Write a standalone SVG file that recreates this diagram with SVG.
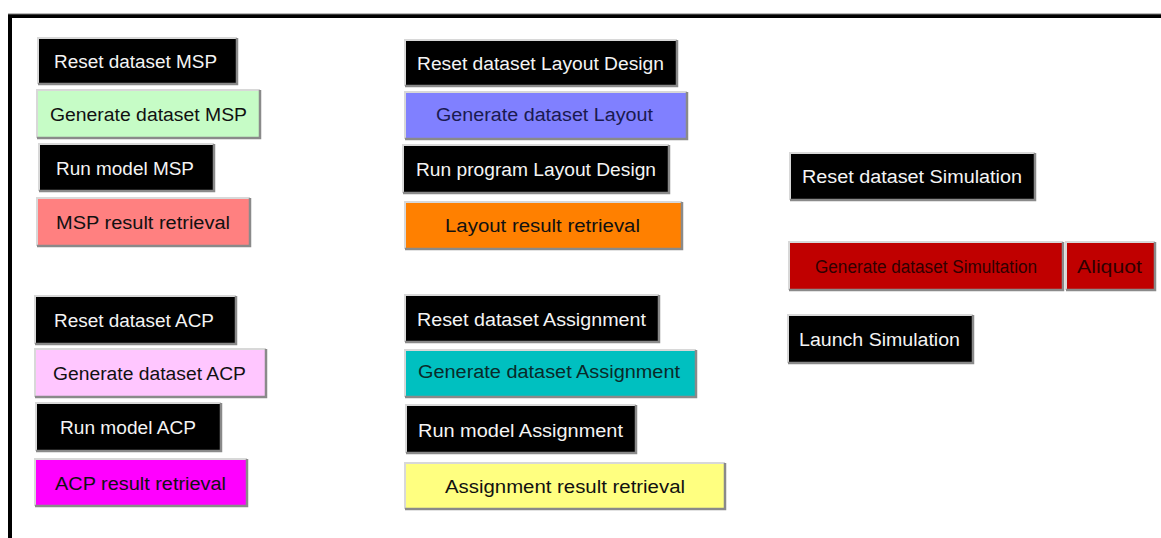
<svg xmlns="http://www.w3.org/2000/svg" width="1161" height="538" viewBox="0 0 1161 538">
<style>
.t{font-family:"Liberation Sans",Arial,sans-serif;font-size:18px}
.w{fill:#f4f4f4}
.d{fill:#111}
.hl{fill:none;stroke:#d8d8d8;stroke-width:2}
.sh{fill:none;stroke:#8a8a8a;stroke-width:2.5}
</style>
<rect width="1161" height="538" fill="#fff"/>
<path d="M10,538 V16 H1161" fill="none" stroke="#000" stroke-width="4"/>
<path d="M8,14 H1161" stroke="#777" stroke-width="1" fill="none"/>

<g id="reset-msp"><rect x="38" y="38" width="199" height="46" fill="#000"/><path class="hl" d="M38,84 V38 H237"/><path class="sh" d="M237,38 V84 H38"/><text class="t w" x="54" y="68" textLength="163" lengthAdjust="spacingAndGlyphs">Reset dataset MSP</text></g>
<g id="gen-msp"><rect x="37" y="90" width="223" height="48" fill="#c6fcc6"/><path class="hl" d="M37,138 V90 H260"/><path class="sh" d="M260,90 V138 H37"/><text class="t d" x="50" y="121" textLength="197" lengthAdjust="spacingAndGlyphs">Generate dataset MSP</text></g>
<g id="run-msp"><rect x="39" y="144" width="175" height="47" fill="#000"/><path class="hl" d="M39,191 V144 H214"/><path class="sh" d="M214,144 V191 H39"/><text class="t w" x="56" y="175" textLength="138" lengthAdjust="spacingAndGlyphs">Run model MSP</text></g>
<g id="res-msp"><rect x="37" y="198" width="213" height="48" fill="#ff8080"/><path class="hl" d="M37,246 V198 H250"/><path class="sh" d="M250,198 V246 H37"/><text class="t d" x="56" y="229" textLength="174" lengthAdjust="spacingAndGlyphs">MSP result retrieval</text></g>

<g id="reset-acp"><rect x="35" y="296" width="201" height="48" fill="#000"/><path class="hl" d="M35,344 V296 H236"/><path class="sh" d="M236,296 V344 H35"/><text class="t w" x="54" y="327" textLength="160" lengthAdjust="spacingAndGlyphs">Reset dataset ACP</text></g>
<g id="gen-acp"><rect x="35" y="349" width="231" height="48" fill="#ffc6ff"/><path class="hl" d="M35,397 V349 H266"/><path class="sh" d="M266,349 V397 H35"/><text class="t d" x="53" y="380" textLength="193" lengthAdjust="spacingAndGlyphs">Generate dataset ACP</text></g>
<g id="run-acp"><rect x="36" y="403" width="185" height="48" fill="#000"/><path class="hl" d="M36,451 V403 H221"/><path class="sh" d="M221,403 V451 H36"/><text class="t w" x="60" y="434" textLength="136" lengthAdjust="spacingAndGlyphs">Run model ACP</text></g>
<g id="res-acp"><rect x="35" y="459" width="212" height="47" fill="#ff00ff"/><path class="hl" d="M35,506 V459 H247"/><path class="sh" d="M247,459 V506 H35"/><text class="t d" x="55" y="490" textLength="171" lengthAdjust="spacingAndGlyphs">ACP result retrieval</text></g>

<g id="reset-layout"><rect x="405" y="40" width="272" height="46" fill="#000"/><path class="hl" d="M405,86 V40 H677"/><path class="sh" d="M677,40 V86 H405"/><text class="t w" x="417" y="70" textLength="247" lengthAdjust="spacingAndGlyphs">Reset dataset Layout Design</text></g>
<g id="gen-layout"><rect x="405" y="92" width="282" height="47" fill="#8080ff"/><path class="hl" d="M405,139 V92 H687"/><path class="sh" d="M687,92 V139 H405"/><text class="t" fill="#1a1a50" x="436" y="121" textLength="217" lengthAdjust="spacingAndGlyphs">Generate dataset Layout</text></g>
<g id="run-layout"><rect x="403" y="145" width="266" height="48" fill="#000"/><path class="hl" d="M403,193 V145 H669"/><path class="sh" d="M669,145 V193 H403"/><text class="t w" x="416" y="176" textLength="240" lengthAdjust="spacingAndGlyphs">Run program Layout Design</text></g>
<g id="res-layout"><rect x="405" y="202" width="277" height="47" fill="#ff8000"/><path class="hl" d="M405,249 V202 H682"/><path class="sh" d="M682,202 V249 H405"/><text class="t d" x="445" y="232" textLength="195" lengthAdjust="spacingAndGlyphs">Layout result retrieval</text></g>

<g id="reset-assign"><rect x="405" y="295" width="254" height="47" fill="#000"/><path class="hl" d="M405,342 V295 H659"/><path class="sh" d="M659,295 V342 H405"/><text class="t w" x="417" y="326" textLength="229" lengthAdjust="spacingAndGlyphs">Reset dataset Assignment</text></g>
<g id="gen-assign"><rect x="405" y="350" width="291" height="47" fill="#00c0c0"/><path class="hl" d="M405,397 V350 H696"/><path class="sh" d="M696,350 V397 H405"/><text class="t" fill="#0a2a2a" x="418" y="378" textLength="262" lengthAdjust="spacingAndGlyphs">Generate dataset Assignment</text></g>
<g id="run-assign"><rect x="406" y="405" width="230" height="48" fill="#000"/><path class="hl" d="M406,453 V405 H636"/><path class="sh" d="M636,405 V453 H406"/><text class="t w" x="418" y="437" textLength="205" lengthAdjust="spacingAndGlyphs">Run model Assignment</text></g>
<g id="res-assign"><rect x="405" y="463" width="320" height="46" fill="#ffff80"/><path class="hl" d="M405,509 V463 H725"/><path class="sh" d="M725,463 V509 H405"/><text class="t d" x="445" y="493" textLength="240" lengthAdjust="spacingAndGlyphs">Assignment result retrieval</text></g>

<g id="reset-sim"><rect x="790" y="153" width="245" height="47" fill="#000"/><path class="hl" d="M790,200 V153 H1035"/><path class="sh" d="M1035,153 V200 H790"/><text class="t w" x="802" y="183" textLength="220" lengthAdjust="spacingAndGlyphs">Reset dataset Simulation</text></g>
<g id="gen-sim"><rect x="789" y="242" width="274" height="48" fill="#c00000"/><path class="hl" d="M789,290 V242 H1063"/><path class="sh" d="M1063,242 V290 H789"/><text class="t" fill="#300000" x="815" y="273" textLength="222" lengthAdjust="spacingAndGlyphs">Generate dataset Simultation</text></g>
<g id="aliquot"><rect x="1066" y="242" width="89" height="48" fill="#c00000"/><path class="hl" d="M1066,290 V242 H1155"/><path class="sh" d="M1155,242 V290 H1066"/><text class="t" fill="#300000" x="1077" y="273" textLength="65" lengthAdjust="spacingAndGlyphs">Aliquot</text></g>
<g id="launch-sim"><rect x="788" y="315" width="185" height="48" fill="#000"/><path class="hl" d="M788,363 V315 H973"/><path class="sh" d="M973,315 V363 H788"/><text class="t w" x="799" y="346" textLength="161" lengthAdjust="spacingAndGlyphs">Launch Simulation</text></g>
</svg>
